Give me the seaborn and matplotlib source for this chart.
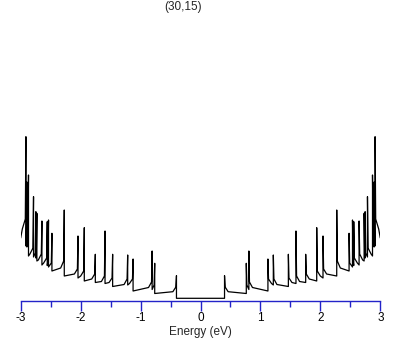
import matplotlib
matplotlib.use("Agg")
import matplotlib.pyplot as plt
import seaborn as sns
import pandas as pd
from matplotlib.ticker import MultipleLocator

# density of states of a (30,15) tube (arb. units)
# only E > 0 is listed, the curve is mirrored to E < 0
plateau = 2.7
vhs_energy = [0.401, 0.764, 0.807, 1.125, 1.215, 1.466, 1.593, 1.755, 1.939, 2.044,
              2.273, 2.479, 2.536, 2.557, 2.646, 2.730, 2.747, 2.786, 2.870, 2.897, 2.913]
vhs_peak = [25.3, 37.7, 50.0, 42.0, 46.0, 46.7, 70.0, 46.7, 73.3, 65.0,
            91.0, 67.7, 81.0, 79.3, 80.0, 87.7, 89.3, 104.3, 126.0, 119.0, 164.3]
# level right after the spike (E + 0.01), at E + 0.06, and just before the next one
vhs_after = [14.0, 16.0, 19.0, 22.0, 22.0, 23.0, 25.0, 27.0, 30.0, 32.0,
             40.0, 38.0, 40.0, 43.0, 47.0, 46.0, 48.0, 53.0, 60.0, 62.0, 82.0]
vhs_foot = [9.3, 12.0, 13.5, 17.5, 16.5, 18.5, 19.5, 22.0, 25.0, 27.0,
            33.0, 35.0, 37.0, 38.0, 41.0, 44.0, 45.0, 47.0, 56.0, 58.0, 72.0]
vhs_end = [7.5, 11.5, 10.0, 16.0, 14.5, 17.5, 18.5, 20.0, 23.0, 25.0,
           30.0, 34.0, 35.5, 36.0, 40.0, 43.0, 44.0, 45.0, 54.0, 55.0, 63.0]
e_max = 3.0

# polyline for E >= 0
xs = [0.0, vhs_energy[0]]
ys = [plateau, plateau]
for i, e in enumerate(vhs_energy):
    nxt = vhs_energy[i + 1] if i + 1 < len(vhs_energy) else e_max
    xs += [e, e + 0.01]
    ys += [vhs_peak[i], vhs_after[i]]
    if nxt - e > 0.07:
        xs.append(e + 0.06)
        ys.append(vhs_foot[i])
    xs.append(nxt)
    ys.append(vhs_end[i])

energy = [-x for x in xs[::-1]] + xs[1:]
dos = ys[::-1] + ys[1:]
df = pd.DataFrame({"energy": energy, "dos": dos})

sns.set_theme(style="white")
plt.rcParams["font.family"] = ["Liberation Sans", "DejaVu Sans"]
plt.rcParams["axes.unicode_minus"] = False

axis_blue = "#2323c8"

fig = plt.figure(figsize=(4.09, 3.45), dpi=100)
ax = fig.add_axes([20.7 / 409, 44 / 345, 359.6 / 409, 281 / 345])
sns.lineplot(data=df, x="energy", y="dos", estimator=None, sort=False,
             color="black", linewidth=0.9, ax=ax)

ax.set_xlim(-3, 3)
ax.set_ylim(0, 281)
for side in ["left", "right", "top"]:
    ax.spines[side].set_visible(False)
ax.spines["bottom"].set_color(axis_blue)
ax.spines["bottom"].set_linewidth(1.0)
ax.set_yticks([])
ax.xaxis.set_major_locator(MultipleLocator(1))
ax.xaxis.set_minor_locator(MultipleLocator(0.5))
ax.tick_params(axis="x", which="major", direction="out", length=7, width=1.0,
               color=axis_blue, labelsize=8.5, labelcolor="black", pad=1,
               bottom=True)
ax.tick_params(axis="x", which="minor", direction="out", length=4.5, width=1.0,
               color=axis_blue, bottom=True)
ax.set_xlabel("Energy (eV)", fontsize=8.5, labelpad=1)
ax.set_ylabel("")
fig.text(183 / 409, 1 - 7 / 345, "(30,15)", ha="center", va="center", fontsize=8.5)

fig.savefig("out.png", dpi=100)
